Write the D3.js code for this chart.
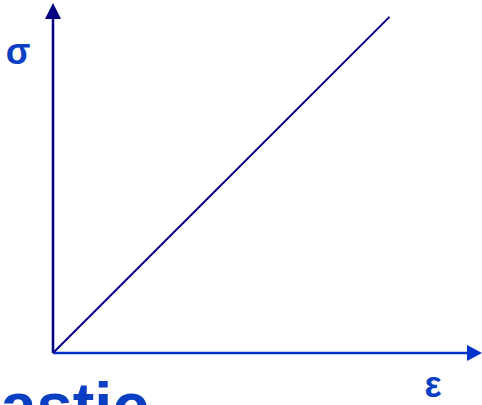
<!DOCTYPE html>
<html>
<head>
<meta charset="utf-8">
<script src="https://cdn.jsdelivr.net/npm/d3@7"></script>
<style>
  body { margin: 0; background: #fff; overflow: hidden; }
  svg { display: block; }
</style>
</head>
<body>
<div class="svg_container"></div>
<script>
const WIDTH = 482;
const HEIGHT = 405;

// data: linear elastic region of a stress-strain curve
var strain = [0, 8];
var stress = [0, 8];
var axisMax = { x: 10.2, y: 8.33 };
var labels = { x: "ε", y: "σ", title: "Elastic" };

var translate = function (x, y) {
  return "translate(" + x + "," + y + ")";
};

var _xScale = d3.scaleLinear().domain([0, axisMax.x]).range([53, 482]);
var _yScale = d3.scaleLinear().domain([0, axisMax.y]).range([353, 3]);

var svg = d3.select('.svg_container').append('svg')
  .attr('width', WIDTH)
  .attr('height', HEIGHT);

// y axis (navy) with arrow
svg.append('line')
  .attr('x1', _xScale(0)).attr('y1', _yScale(0))
  .attr('x2', _xScale(0)).attr('y2', _yScale(axisMax.y) + 14)
  .attr('stroke', '#000080').attr('stroke-width', 2.5);
svg.append('path')
  .attr('transform', translate(_xScale(0), _yScale(axisMax.y)))
  .attr('d', 'M0,0 L-8,16 L8,16 Z')
  .attr('fill', '#000080');

// x axis (blue) with arrow
svg.append('line')
  .attr('x1', _xScale(0)).attr('y1', _yScale(0))
  .attr('x2', _xScale(axisMax.x) - 14).attr('y2', _yScale(0))
  .attr('stroke', '#0033cc').attr('stroke-width', 2.5);
svg.append('path')
  .attr('transform', translate(_xScale(axisMax.x), _yScale(0)))
  .attr('d', 'M0,0 L-15,-8 L-15,8 Z')
  .attr('fill', '#0033cc');

// stress-strain line
var line = d3.line()
  .x(function (d, i) { return _xScale(strain[i]); })
  .y(function (d, i) { return _yScale(stress[i]); });

svg.append('path')
  .attr('d', line(strain))
  .attr('fill', 'none')
  .attr('stroke', '#000080')
  .attr('stroke-width', 2);

// labels
svg.append('text')
  .attr('x', 18).attr('y', 64)
  .attr('text-anchor', 'middle')
  .style('font', 'bold 36px "Liberation Sans", Arial, sans-serif')
  .attr('fill', '#0a3fc4')
  .text(labels.y);

svg.append('text')
  .attr('x', 433).attr('y', 397)
  .attr('text-anchor', 'middle')
  .style('font', 'bold 36px "Liberation Sans", Arial, sans-serif')
  .attr('fill', '#0a3fc4')
  .text(labels.x);

svg.append('text')
  .attr('x', -61).attr('y', 428)
  .style('font', 'bold 65px "Liberation Sans", Arial, sans-serif')
  .attr('fill', '#0a3fc4')
  .text(labels.title);
</script>
</body>
</html>
